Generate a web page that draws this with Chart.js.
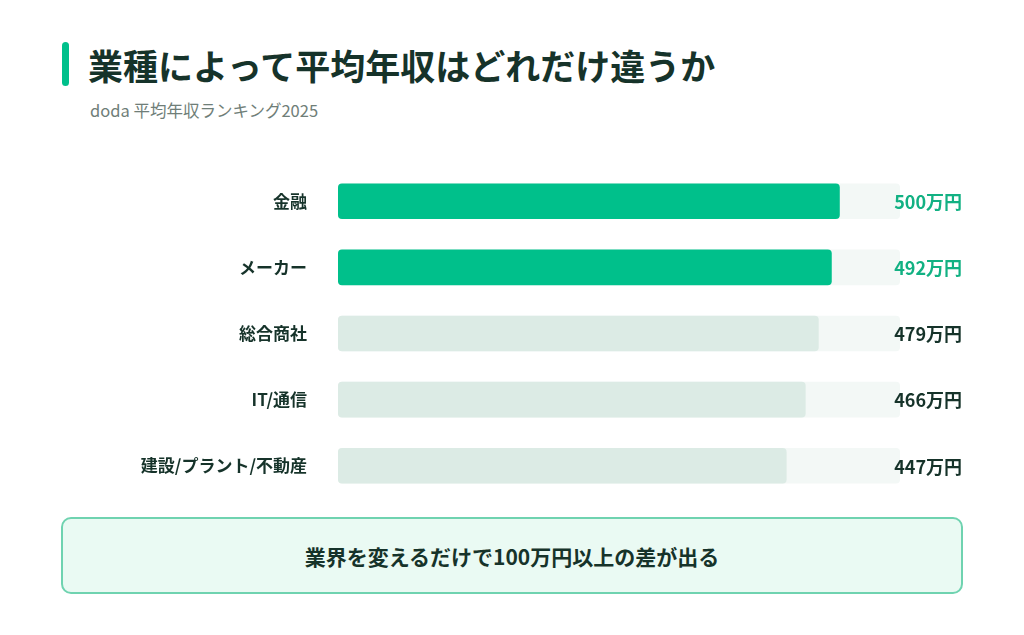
<!DOCTYPE html>
<html><head><meta charset="utf-8">
<script src="https://cdn.jsdelivr.net/npm/chart.js@4"></script>
<style>
body{margin:0;width:1024px;height:635px;background:#fff;font-family:"Noto Sans CJK JP","Noto Sans",sans-serif;position:relative;overflow:hidden}
#acc{position:absolute;left:62px;top:42px;width:7px;height:44px;background:#00c08b;border-radius:4px}
#t{position:absolute;left:88px;top:41px;font-size:35px;font-weight:700;color:#16332a;line-height:48px}
#s{position:absolute;left:90px;top:98px;font-size:16.5px;color:#6f7e78}
#c{position:absolute;left:0;top:135px}
#box{position:absolute;left:61px;top:517px;width:902px;height:77px;border:2px solid #6fd3b0;border-radius:10px;background:#eafaf3;box-sizing:border-box;display:flex;align-items:center;justify-content:center;font-size:21px;font-weight:700;color:#16332a}
</style></head><body>
<div id="acc"></div><div id="t">業種によって平均年収はどれだけ違うか</div>
<div id="s">doda 平均年収ランキング2025</div>
<div id="c"><canvas id="cv" width="1024" height="397"></canvas></div>
<div id="box">業界を変えるだけで100万円以上の差が出る</div>
<script>
const categories=["金融","メーカー","総合商社","IT/通信","建設/プラント/不動産"];
const values=[500,492,479,466,447];
const valueLabels=["500万円","492万円","479万円","466万円","447万円"];
const trackMax=560;
const hi=[true,true,false,false,false];
const lbl={id:'lbl',afterDatasetsDraw(ch){const c=ch.ctx;const m=ch.getDatasetMeta(1);c.save();c.font='bold 18px "Noto Sans CJK JP"';c.textAlign='right';c.textBaseline='middle';m.data.forEach((b,i)=>{c.fillStyle=hi[i]?'#12b183':'#16332a';c.fillText(valueLabels[i],962,b.y+1);});c.restore();}};
new Chart(document.getElementById('cv'),{type:'bar',
data:{labels:categories,datasets:[
{data:categories.map(()=>trackMax),backgroundColor:'#f3f8f6',borderRadius:4,borderSkipped:false,grouped:false,order:2},
{data:values,backgroundColor:hi.map(h=>h?'#00c08b':'#dcebe5'),borderRadius:4,borderSkipped:false,grouped:false,order:1}]},
options:{indexAxis:'y',responsive:false,animation:false,events:[],
categoryPercentage:1,barPercentage:0.54,
layout:{padding:{left:0,right:124,top:15,bottom:13}},
plugins:{legend:{display:false},tooltip:{enabled:false}},
scales:{x:{display:false,min:0,max:trackMax},
y:{afterFit:s=>{s.width=338},grid:{display:false},border:{display:false},
ticks:{padding:23,color:'#16332a',font:{family:'"Noto Sans CJK JP"',size:17,weight:'bold'}}}}},
plugins:[lbl]});
</script></body></html>
